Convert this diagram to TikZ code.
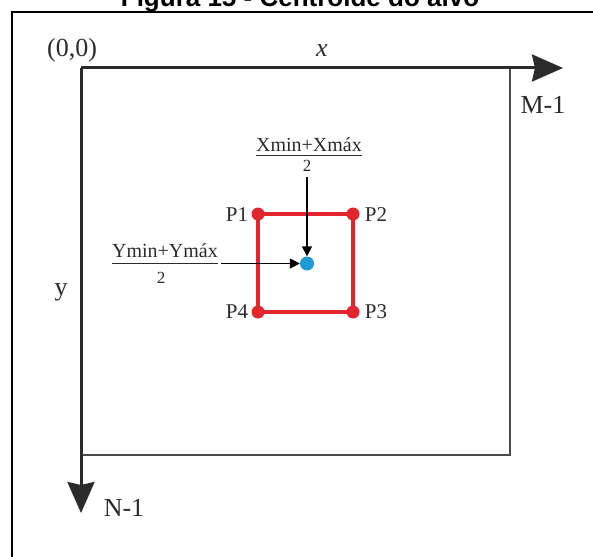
\documentclass[tikz,border=0pt]{standalone}
\usepackage{fontspec}
\setmainfont{Liberation Serif}
\newfontfamily\titlefont{Liberation Sans}
\usetikzlibrary{arrows.meta}
\definecolor{axisgray}{HTML}{2B2B2B}
\definecolor{rectgray}{HTML}{4A4A4A}
\definecolor{pred}{HTML}{E3262E}
\definecolor{pblue}{HTML}{1E9AD6}
\begin{document}
\begin{tikzpicture}[x=1pt,y=-1pt,
  axis/.style={line width=3pt, draw=axisgray, -{Stealth[length=31pt,width=27pt,inset=3pt]}},
  rectline/.style={line width=1.6pt, draw=rectgray},
  outerframe/.style={line width=2.4pt, draw=black},
  lbl/.style={font=\fontsize{26}{30}\selectfont, inner sep=0pt, text=axisgray},
  plbl/.style={font=\fontsize{21}{24}\selectfont, inner sep=0pt, text=axisgray},
  fracnum/.style={font=\fontsize{20}{24}\selectfont, inner sep=0pt, anchor=base, text=axisgray},
  fracden/.style={font=\fontsize{17}{20}\selectfont, inner sep=0pt, anchor=base, text=axisgray},
  fracbar/.style={line width=1.4pt, draw=axisgray},
  reddot/.style={circle, fill=pred, minimum size=13pt, inner sep=0pt},
  bluedot/.style={circle, fill=pblue, minimum size=14pt, inner sep=0pt},
  redline/.style={line width=4pt, draw=pred},
  ptr/.style={line width=1.5pt, draw=black, -{Triangle[length=10pt,width=10pt]}},
  titletext/.style={font=\titlefont\bfseries\fontsize{26}{30}\selectfont, inner sep=0pt, anchor=base}
]
\useasboundingbox (0,0) rectangle (593,556);
% title (cut off by the page top) and frame
\node[titletext] (title) at (300,7) {Figura 15 - Centroide do alvo};
\coordinate (fbl) at (12,560);
\coordinate (ftl) at (12,12);
\coordinate (ftr) at (600,12);
\draw[outerframe] (fbl) -- (ftl) -- (ftr);
% image area
\coordinate (O) at (81,68);
\coordinate (Xe) at (563,68);
\coordinate (Ye) at (81,513);
\coordinate (Rtr) at (510,68);
\coordinate (Rbr) at (510,455);
\coordinate (Rbl) at (81,455);
\draw[rectline] (Rtr) -- (Rbr) -- (Rbl);
\draw[axis] (O) -- (Xe);
\draw[axis] (O) -- (Ye);
\node[lbl] (origin) at (72,50) {(0,0)};
\node[lbl] (xl) at (322,51) {\textit{x}};
\node[lbl] (yl) at (61,292) {y};
\node[lbl] (ml) at (543,105) {M-1};
\node[lbl] (nl) at (124,508) {N-1};
% red square
\node[reddot] (P1) at (258,214) {};
\node[reddot] (P2) at (353,214) {};
\node[reddot] (P3) at (353,312) {};
\node[reddot] (P4) at (258,312) {};
\draw[redline] (P1.center) -- (P2.center) -- (P3.center) -- (P4.center) -- cycle;
\node[plbl] (l1) at (237,215) {P1};
\node[plbl] (l2) at (376,215) {P2};
\node[plbl] (l3) at (376,312) {P3};
\node[plbl] (l4) at (237,312) {P4};
% centroid
\node[bluedot] (c) at (307,263.5) {};
% x fraction
\node[fracnum] (xnum) at (309,151) {Xmin+Xmáx};
\draw[fracbar] ([yshift=-4pt]xnum.south west) -- ([yshift=-4pt]xnum.south east);
\node[fracden] (xden) at (307,171) {2};
\coordinate (vs) at (307,177);
\draw[ptr] (vs) -- (c.north);
% y fraction
\node[fracnum] (ynum) at (165,257) {Ymin+Ymáx};
\draw[fracbar] ([yshift=-6pt]ynum.south west) -- ([yshift=-6pt]ynum.south east);
\node[fracden] (yden) at (161,283) {2};
\coordinate (hs) at (221,263.5);
\draw[ptr] (hs) -- (c.west);
\end{tikzpicture}
\end{document}
